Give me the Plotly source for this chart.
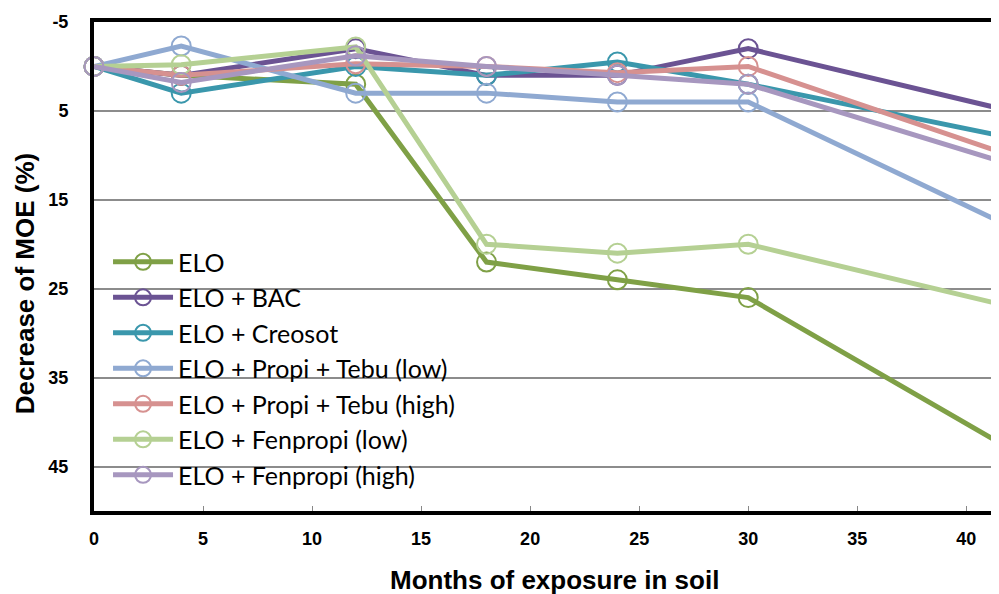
import plotly.graph_objects as go

# months of exposure and MOE decrease (%) per treatment
months = [0, 4, 12, 18, 24, 30, 42]
elo = [0, 1, 2, 22, 24, 26, 43]
elo_bac = [0, 1, -2, 1, 1, -2, 5]
elo_creosot = [0, 3, 0, 1, -0.5, 2, 8]
elo_propi_low = [0, -2.3, 3, 3, 4, 4, 18]
elo_propi_high = [0, 1, -0.3, 0, 0.7, 0, 10]
elo_fen_low = [0, -0.2, -2.2, 20, 21, 20, 27]
elo_fen_high = [0, 1.8, -1.2, 0, 1, 2, 11]

series = [
    ("ELO", elo, "#7FA046"),
    ("ELO + BAC", elo_bac, "#6B5393"),
    ("ELO + Creosot", elo_creosot, "#3A97AC"),
    ("ELO + Propi + Tebu (low)", elo_propi_low, "#8FA9D1"),
    ("ELO + Propi + Tebu (high)", elo_propi_high, "#D69190"),
    ("ELO + Fenpropi (low)", elo_fen_low, "#B5D093"),
    ("ELO + Fenpropi (high)", elo_fen_high, "#A797BF"),
]

y_ticks = [-5, 5, 15, 25, 35, 45]
y_labels = ["-5", "5", "15", "25", "35", "45"]
x_ticks = [0, 5, 10, 15, 20, 25, 30, 35, 40]

bold = dict(family="Liberation Sans, Arial", color="black", weight="bold")

fig = go.Figure()
for name, vals, col in series:
    fig.add_trace(go.Scatter(
        x=months, y=vals, name=name, mode="lines+markers",
        line=dict(color=col, width=5),
        marker=dict(symbol="circle-open", size=19, color=col, line=dict(width=2, color=col)),
        cliponaxis=False,
    ))

# the page body adds an 8px margin, so margins are 8px smaller than in the picture
fig.update_layout(
    width=991, height=586,
    margin=dict(l=86, r=0, t=14, b=83),
    plot_bgcolor="white", paper_bgcolor="white",
    showlegend=True,
    legend=dict(x=0.0155, y=0.556, xanchor="left", yanchor="top",
                bgcolor="rgba(0,0,0,0)",
                font=dict(family="Lato, Noto Sans, sans-serif", size=25, color="black"),
                tracegroupgap=0, itemwidth=60),
    annotations=[
        dict(text="Months of exposure in soil", xref="paper", yref="paper",
             x=0.509, y=-0.141, xanchor="center", yanchor="middle", showarrow=False,
             font=dict(size=26, **bold)),
        dict(text="Decrease of MOE (%)", xref="paper", yref="paper", textangle=-90,
             x=-0.076, y=0.466, xanchor="center", yanchor="middle", showarrow=False,
             font=dict(size=26, **bold)),
    ],
)
fig.update_xaxes(
    range=[0, 41.5], tickvals=x_ticks, showgrid=False, zeroline=False, automargin=False,
    showline=True, linecolor="black", linewidth=4, mirror=True,
    ticks="inside", ticklen=5, tickcolor="#888", ticklabelstandoff=8,
    tickfont=dict(size=18, **bold),
)
fig.update_yaxes(
    range=[50, -5], tickvals=y_ticks, ticktext=y_labels, showgrid=True,
    gridcolor="#8C8C8C", gridwidth=1.5, automargin=False,
    zeroline=False, showline=True, linecolor="black", linewidth=4,
    ticks="inside", ticklen=5, tickcolor="#888", ticklabelstandoff=18,
    tickfont=dict(size=18, **bold),
)

fig.write_html("out.html")
